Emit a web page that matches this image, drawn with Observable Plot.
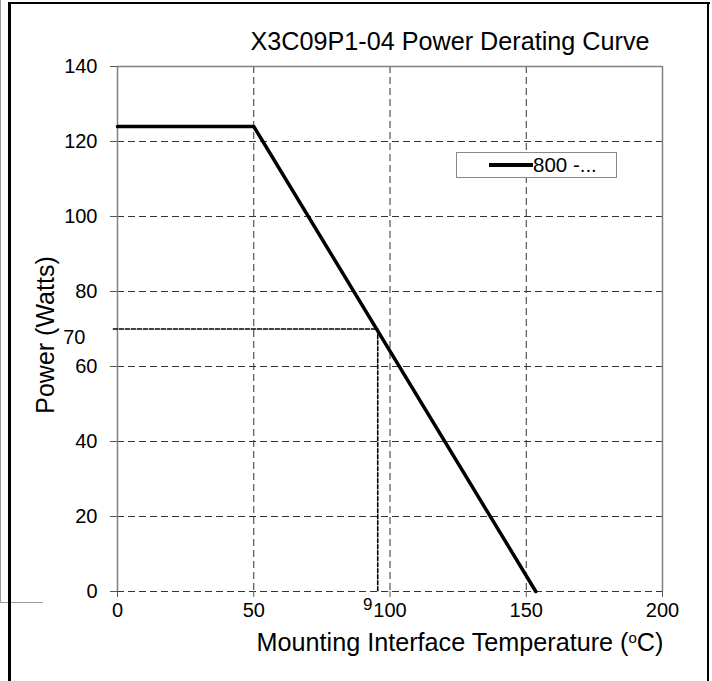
<!DOCTYPE html>
<html>
<head>
<meta charset="utf-8">
<script src="https://cdn.jsdelivr.net/npm/d3@7"></script>
<script src="https://cdn.jsdelivr.net/npm/@observablehq/plot@0.6"></script>
<style>
  html, body { margin: 0; padding: 0; background: #fff; }
  #wrap { position: relative; width: 712px; height: 681px; overflow: hidden; font-family: "Liberation Sans", Arial, sans-serif; color: #000; }
  #wrap svg { position: absolute; left: 0; top: 0; }
  .abs { position: absolute; white-space: nowrap; }
</style>
</head>
<body>
<div id="wrap"></div>
<script>
// ---- data ----
const curveTemp = [0, 50, 153.5];          // °C
const curvePower = [124, 124, 0];          // Watts
const refTemp = [-1.5, 95.5, 95.5];        // dotted marker for 70 W
const refPower = [70, 70, 0];
const xTicks = [0, 50, 100, 150, 200];
const yTicks = [0, 20, 40, 60, 80, 100, 120, 140];
const xGrid = [50, 100, 150];
const yGrid = [0, 20, 40, 60, 80, 100, 120];
const titleText = "X3C09P1-04 Power Derating Curve";
const legendText = "800 -...";

const curve = curveTemp.map((t, i) => ({t, p: curvePower[i]}));
const ref = refTemp.map((t, i) => ({t, p: refPower[i]}));

const plot = Plot.plot({
  width: 712,
  height: 681,
  marginLeft: 117,
  marginRight: 50,
  marginTop: 66,
  marginBottom: 90,
  style: {fontFamily: "'Liberation Sans', Arial, sans-serif", fontSize: "20px", color: "#000", background: "transparent"},
  x: {domain: [0, 200], ticks: xTicks, label: null},
  y: {domain: [0, 140], ticks: yTicks, label: null},
  marks: [
    Plot.ruleX(xGrid, {stroke: "#333", strokeWidth: 1, strokeDasharray: "7,4"}),
    Plot.ruleY(yGrid, {stroke: "#333", strokeWidth: 1, strokeDasharray: "7,4"}),
    Plot.ruleX([0, 200], {stroke: "#808080", strokeWidth: 1.5}),
    Plot.ruleY([140], {stroke: "#808080", strokeWidth: 1.5}),
    Plot.axisX({ticks: xTicks, tickSize: 6, tickPadding: 5, fontSize: 20, stroke: "#555", fill: "#000"}),
    Plot.axisY({ticks: yTicks, tickSize: 7, tickPadding: 13, fontSize: 20, stroke: "#555", fill: "#000"}),
    Plot.line(ref, {x: "t", y: "p", stroke: "#000", strokeWidth: 1.6, strokeDasharray: "4,2"}),
    Plot.line(curve, {x: "t", y: "p", stroke: "#000", strokeWidth: 3.5}),
    Plot.text([ref[0]], {x: "t", y: "p", text: d => String(d.p), textAnchor: "end", dx: -28, dy: 9, fontSize: 20, fill: "#000"}),
    Plot.text([ref[2]], {x: "t", y: "p", text: d => "9", dx: -10, dy: 13, fontSize: 17, fill: "#000"})
  ]
});

const wrap = document.getElementById("wrap");
wrap.appendChild(plot);

function addDiv(css, text, html) {
  const d = document.createElement("div");
  d.className = "abs";
  d.style.cssText += css;
  if (html) d.innerHTML = html; else if (text != null) d.textContent = text;
  wrap.appendChild(d);
  return d;
}

// outer frame lines
addDiv("left:0;top:0;width:1px;height:602px;background:#9a9a9a;");
addDiv("left:0;top:602px;width:43px;height:1px;background:#9a9a9a;");
addDiv("left:8px;top:2px;width:3px;height:679px;background:#000;");
addDiv("left:8px;top:2px;width:702px;height:2px;background:#000;");
addDiv("left:707px;top:2px;width:2px;height:679px;background:#000;");

// title
addDiv("left:450px;top:29px;transform:translateX(-50%);font-size:25.2px;line-height:25px;", titleText);

// x axis title
addDiv("left:460px;top:625px;transform:translateX(-50%);font-size:25.2px;line-height:25px;", null,
  'Mounting Interface Temperature (<span style="font-size:15px;vertical-align:8px;">o</span>C)');

// y axis title
addDiv("left:45px;top:335px;transform:translate(-50%,-50%) rotate(-90deg);font-size:25px;line-height:25px;", "Power (Watts)");

// legend
addDiv("left:456px;top:152px;width:159px;height:24px;border:1px solid #888;background:#fff;");
addDiv("left:489px;top:163px;width:44px;height:4px;background:#000;");
addDiv("left:533px;top:155px;font-size:20.5px;line-height:20px;", legendText);
</script>
</body>
</html>
